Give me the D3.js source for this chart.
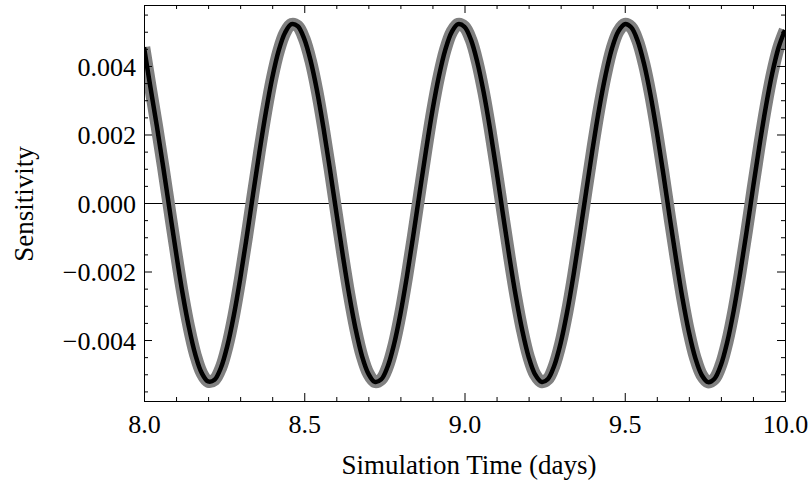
<!DOCTYPE html>
<html>
<head>
<meta charset="utf-8">
<script src="https://cdn.jsdelivr.net/npm/d3@7"></script>
<style>
  html, body { margin: 0; padding: 0; background: #fff; }
  svg { display: block; }
</style>
</head>
<body>
<svg id="chart" width="812" height="487"></svg>
<script>
// ---- data ----
const times = [
  8.00, 8.02, 8.04, 8.06, 8.08, 8.10, 8.12, 8.14, 8.16, 8.18,
  8.20, 8.22, 8.24, 8.26, 8.28, 8.30, 8.32, 8.34, 8.36, 8.38,
  8.40, 8.42, 8.44, 8.46, 8.48, 8.50, 8.52, 8.54, 8.56, 8.58,
  8.60, 8.62, 8.64, 8.66, 8.68, 8.70, 8.72, 8.74, 8.76, 8.78,
  8.80, 8.82, 8.84, 8.86, 8.88, 8.90, 8.92, 8.94, 8.96, 8.98,
  9.00, 9.02, 9.04, 9.06, 9.08, 9.10, 9.12, 9.14, 9.16, 9.18,
  9.20, 9.22, 9.24, 9.26, 9.28, 9.30, 9.32, 9.34, 9.36, 9.38,
  9.40, 9.42, 9.44, 9.46, 9.48, 9.50, 9.52, 9.54, 9.56, 9.58,
  9.60, 9.62, 9.64, 9.66, 9.68, 9.70, 9.72, 9.74, 9.76, 9.78,
  9.80, 9.82, 9.84, 9.86, 9.88, 9.90, 9.92, 9.94, 9.96, 9.98,
  10.00
];
const sensitivity = [
  0.00455, 0.00338, 0.00225, 0.00105, -0.00021, -0.00145, -0.00262, -0.00362, -0.00442, -0.00496,
  -0.00521, -0.00516, -0.00481, -0.00417, -0.00329, -0.00222, -0.00102, 0.00024, 0.00148, 0.00264,
  0.00365, 0.00444, 0.00497, 0.00522, 0.00516, 0.00479, 0.00415, 0.00327, 0.00219, 0.00099,
  -0.00027, -0.00151, -0.00267, -0.00367, -0.00446, -0.00498, -0.00522, -0.00515, -0.00478, -0.00413,
  -0.00324, -0.00216, -0.00096, 0.00030, 0.00154, 0.00270, 0.00369, 0.00447, 0.00499, 0.00522,
  0.00514, 0.00477, 0.00411, 0.00322, 0.00214, 0.00093, -0.00033, -0.00157, -0.00272, -0.00371,
  -0.00449, -0.00500, -0.00522, -0.00514, -0.00475, -0.00409, -0.00319, -0.00211, -0.00090, 0.00036,
  0.00160, 0.00275, 0.00373, 0.00451, 0.00501, 0.00522, 0.00513, 0.00474, 0.00407, 0.00317,
  0.00208, 0.00087, -0.00040, -0.00163, -0.00278, -0.00376, -0.00452, -0.00502, -0.00523, -0.00513,
  -0.00473, -0.00405, -0.00314, -0.00205, -0.00084, 0.00043, 0.00166, 0.00280, 0.00378, 0.00454,
  0.00505
];
const xMajorTicks = [8.0, 8.5, 9.0, 9.5, 10.0];
const xTickLabels = ["8.0", "8.5", "9.0", "9.5", "10.0"];
const xMinorTicks = [8.1, 8.2, 8.3, 8.4, 8.6, 8.7, 8.8, 8.9, 9.1, 9.2, 9.3, 9.4, 9.6, 9.7, 9.8, 9.9];
const yMajorTicks = [-0.004, -0.002, 0.0, 0.002, 0.004];
const yTickLabels = ["\u22120.004", "\u22120.002", "0.000", "0.002", "0.004"];
const yMinorTicks = [-0.0055, -0.005, -0.0045, -0.0035, -0.003, -0.0025, -0.0015, -0.001, -0.0005,
                     0.0005, 0.001, 0.0015, 0.0025, 0.003, 0.0035, 0.0045, 0.005, 0.0055];
const xTitle = "Simulation Time (days)";
const yTitle = "Sensitivity";

// ---- layout ----
const FONT = '"Liberation Serif", "Times New Roman", serif';
const L = 144, R = 785, T = 5, B = 401;
const svg = d3.select("#chart");
const x = d3.scaleLinear().domain([8, 10]).range([L, R]);
const y = d3.scaleLinear().domain([-0.00578, 0.00578]).range([B, T]);
const pts = times.map((t, i) => [t, sensitivity[i]]);

svg.append("defs").append("clipPath").attr("id", "clip")
  .append("rect").attr("x", L + 0.5).attr("y", T + 0.5).attr("width", R - L).attr("height", B - T);

// zero line
svg.append("line")
  .attr("x1", L).attr("x2", R).attr("y1", Math.round(y(0)) + 0.5).attr("y2", Math.round(y(0)) + 0.5)
  .attr("stroke", "#000").attr("stroke-width", 1);

const line = d3.line().x(d => x(d[0])).y(d => y(d[1])).curve(d3.curveCatmullRom.alpha(0.5));
const g = svg.append("g").attr("clip-path", "url(#clip)");
g.append("path").datum(pts).attr("d", line)
  .attr("fill", "none").attr("stroke", "#808080").attr("stroke-width", 12.5)
  .attr("stroke-linejoin", "round");
g.append("path").datum(pts).attr("d", line)
  .attr("fill", "none").attr("stroke", "#000").attr("stroke-width", 4.5)
  .attr("stroke-linejoin", "round");

// frame with inward ticks using d3 axes
const MAJ = 8, MIN = 4;
function addAxis(axisFn, scale, ticks, len, tr, fmt) {
  const a = axisFn(scale).tickValues(ticks).tickSizeInner(-len).tickSizeOuter(0)
    .tickFormat(fmt || (() => ""));
  const gg = svg.append("g").attr("transform", tr).call(a);
  gg.select(".domain").remove();
  gg.selectAll(".tick line").attr("stroke", "#000").attr("stroke-width", 1);
  return gg;
}
// bottom
addAxis(d3.axisBottom, x, xMinorTicks, MIN, `translate(0,${B})`);
const bx = addAxis(d3.axisBottom, x, xMajorTicks, MAJ, `translate(0,${B})`, (d, i) => xTickLabels[i]);
bx.selectAll(".tick text").attr("y", 0).attr("dy", 0)
  .attr("transform", "translate(0,32)")
  .style("font-size", "26px").style("font-family", FONT).style("fill", "#000");
// top
addAxis(d3.axisTop, x, xMinorTicks, MIN, `translate(0,${T})`);
addAxis(d3.axisTop, x, xMajorTicks, MAJ, `translate(0,${T})`);
// left
addAxis(d3.axisLeft, y, yMinorTicks, MIN, `translate(${L},0)`);
const ly = addAxis(d3.axisLeft, y, yMajorTicks, MAJ, `translate(${L},0)`, (d, i) => yTickLabels[i]);
ly.selectAll(".tick text").attr("x", -8).attr("dy", "0.36em")
  .style("font-size", "26px").style("font-family", FONT).style("fill", "#000");
// right
addAxis(d3.axisRight, y, yMinorTicks, MIN, `translate(${R},0)`);
addAxis(d3.axisRight, y, yMajorTicks, MAJ, `translate(${R},0)`);

svg.append("rect").attr("x", L + 0.5).attr("y", T + 0.5).attr("width", R - L).attr("height", B - T)
  .attr("fill", "none").attr("stroke", "#000").attr("stroke-width", 1);

// titles
svg.append("text").attr("x", 469).attr("y", 474).attr("text-anchor", "middle")
  .style("font-size", "27px").style("font-family", FONT).style("fill", "#000").text(xTitle);
svg.append("text").attr("transform", "translate(33,204) rotate(-90)").attr("text-anchor", "middle")
  .style("font-size", "27px").style("font-family", FONT).style("fill", "#000").text(yTitle);
</script>
</body>
</html>
